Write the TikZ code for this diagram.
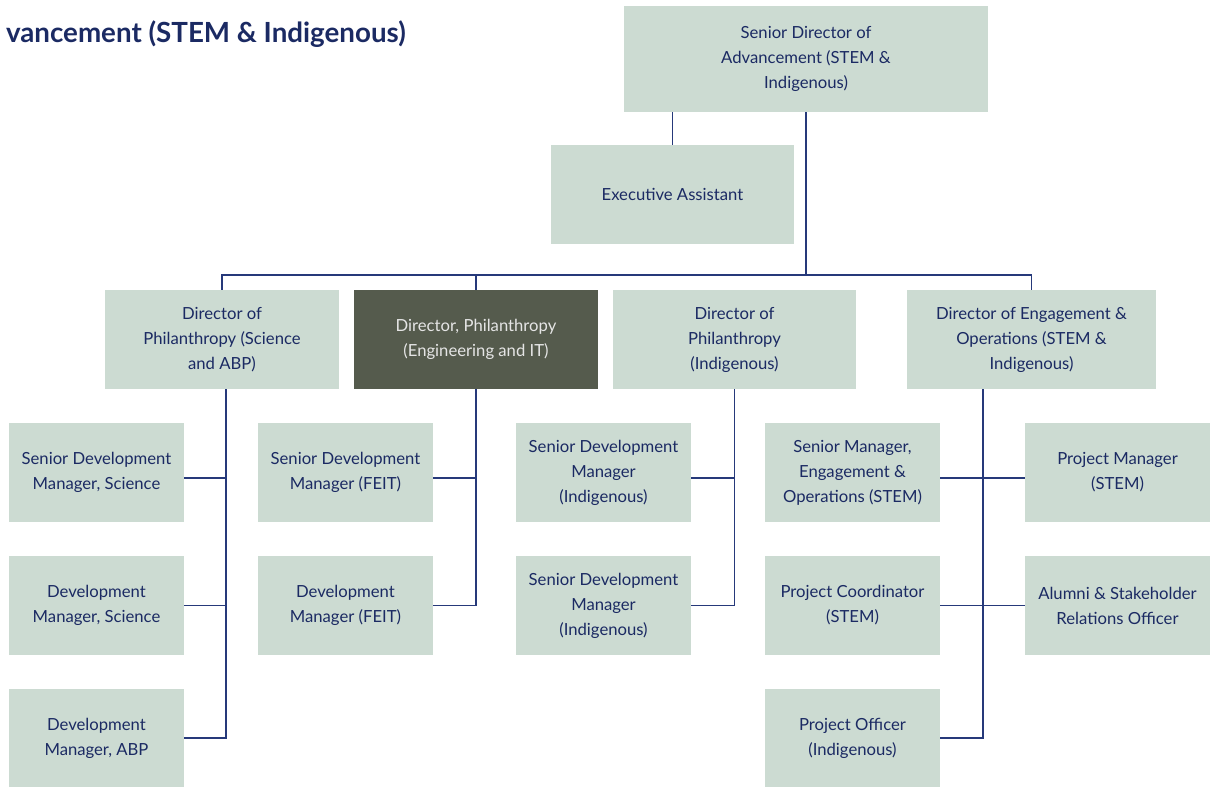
\documentclass[tikz,border=0pt]{standalone}
\usepackage{fontspec}
\setmainfont{Lato}
\usetikzlibrary{calc}
\definecolor{sage}{HTML}{CCDBD2}
\definecolor{olive}{HTML}{555B4D}
\definecolor{navy}{HTML}{1B2A63}
\definecolor{wire}{HTML}{26397A}
\tikzset{
  box/.style={fill=sage, text=navy, align=center, inner sep=0pt,
    font=\fontsize{12.5}{18.75}\selectfont},
  staff/.style={box, minimum width=131.25pt, minimum height=74.25pt},
  link/.style={draw=wire, line width=1.2pt},
}
\begin{document}
\begin{tikzpicture}[x=0.75pt,y=-0.75pt]
        \useasboundingbox (0,0) rectangle (1210,787);
        \node[anchor=east, inner sep=0pt, text=navy, font=\fontsize{20.8}{24}\selectfont\bfseries] (title) at (406,34) {vancement (STEM \& Indigenous)};
        % top of the tree
        \node[box, minimum width=273pt, minimum height=79.5pt] (sdir) at (806,59) {Senior Director of\\Advancement (STEM \&\\Indigenous)};
        \node[box, minimum width=182.25pt, minimum height=74.25pt] (ea) at (672.5,194.5) {Executive Assistant};
        % directors
        \node[box, minimum width=175.5pt, minimum height=74.25pt] (dsci) at (222,339.5) {Director of\\Philanthropy (Science\\and ABP)};
        \node[box, fill=olive, text=white!90!black, minimum width=183pt, minimum height=74.25pt] (deng) at (476,339.5) {Director, Philanthropy\\(Engineering and IT)};
        \node[box, minimum width=182.25pt, minimum height=74.25pt] (dind) at (734.5,339.5) {Director of\\Philanthropy\\(Indigenous)};
        \node[box, minimum width=186.75pt, minimum height=74.25pt] (dops) at (1031.5,339.5) {Director of Engagement \&\\Operations (STEM \&\\Indigenous)};
        % staff
        \node[staff] (sdmsci) at (96.5,472.5) {Senior Development\\Manager, Science};
        \node[staff] (dmsci) at (96.5,605.5) {Development\\Manager, Science};
        \node[staff] (dmabp) at (96.5,738) {Development\\Manager, ABP};
        \node[staff] (sdmfeit) at (345.5,472.5) {Senior Development\\Manager (FEIT)};
        \node[staff] (dmfeit) at (345.5,605.5) {Development\\Manager (FEIT)};
        \node[staff] (sdmind) at (603.5,472.5) {Senior Development\\Manager\\(Indigenous)};
        \node[staff] (sdmindb) at (603.5,605.5) {Senior Development\\Manager\\(Indigenous)};
        \node[staff] (smeo) at (852.5,472.5) {Senior Manager,\\Engagement \&\\Operations (STEM)};
        \node[staff] (pc) at (852.5,605.5) {Project Coordinator\\(STEM)};
        \node[staff] (po) at (852.5,738) {Project Officer\\(Indigenous)};
        \node[staff, minimum width=138.75pt] (pm) at (1117.5,472.5) {Project Manager\\(STEM)};
        \node[staff, minimum width=138.75pt] (aso) at (1117.5,605.5) {Alumni \& Stakeholder\\Relations Officer};
        % lines
        \draw[link] (sdir.south -| ea.north) -- (ea.north);
        \draw[link] (sdir.south) -- ++(0,163) coordinate (hub);
        \draw[link] (dsci.north) |- (hub) -| (dops.north);
        \draw[link] (deng.north) -- (deng.north |- hub);
        \draw[link] ($(dsci.south)+(4,0)$) coordinate (vsci) |- (dmabp.east);
        \draw[link] ($(sdmsci.east)+(0,5.5)$) -- ($(sdmsci.east)+(42,5.5)$);
        \draw[link] (dmsci.east) -- (dmsci.east -| vsci);
        \draw[link] (deng.south) |- (dmfeit.east);
        \draw[link] ($(sdmfeit.east)+(0,5.5)$) -- ($(sdmfeit.east)+(42,5.5)$);
        \draw[link] (dind.south) |- (sdmindb.east);
        \draw[link] ($(sdmind.east)+(0,5.5)$) -- ($(sdmind.east)+(43,5.5)$);
        \draw[link] ($(dops.south)+(-48.5,0)$) coordinate (vops) |- (po.east);
        \draw[link] ($(smeo.east)+(0,5.5)$) -- ($(pm.west)+(0,5.5)$);
        \draw[link] (pc.east) -- (aso.west);
    \end{tikzpicture}
\end{document}
